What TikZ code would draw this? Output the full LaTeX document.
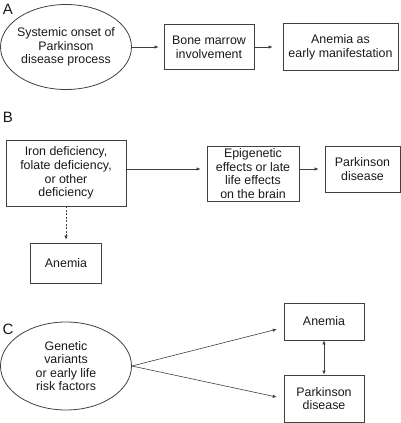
\documentclass[tikz,border=0pt]{standalone}
\usepackage{fontspec}
\setmainfont{Liberation Sans}
\usetikzlibrary{shapes.geometric,arrows.meta}

\begin{document}
\begin{tikzpicture}[x=1pt,y=-1pt]
\tikzstyle{box}=[draw=black!75,line width=0.8pt,shape=rectangle,align=center,inner sep=0pt,text=black!90,font=\fontsize{12.4}{13.6}\selectfont]
\tikzstyle{oval}=[box,shape=ellipse,inner sep=-3pt]
\tikzstyle{panel}=[inner sep=0pt,text=black!90,font=\fontsize{15}{15}\selectfont]
\tikzstyle{arr}=[draw=black!75,line width=0.6pt,-{Latex[length=4pt,width=3.5pt]}]
\useasboundingbox (0,0) rectangle (401,423);

\path (8,9) node[panel](pa){A} (8,117) node[panel](pb){B} (8,329) node[panel](pc){C};

\path (66,47) node[oval,minimum width=131pt,minimum height=85pt](ons){Systemic onset of\\Parkinson\\disease process}
 (209,47) node[box,minimum width=90pt,minimum height=45pt](bm){Bone marrow\\involvement}
 (340.5,47) node[box,minimum width=115pt,minimum height=47pt](aem){Anemia as\\early manifestation};
\draw[arr,shorten >=5pt] (ons) -- (bm);
\draw[arr,shorten >=10pt] (bm) -- (aem);

\path (66,173) node[box,minimum width=120pt,minimum height=66pt](iron){Iron deficiency,\\folate deficiency,\\or other\\deficiency}
 (253,173.5) node[box,minimum width=92pt,minimum height=55pt](epi){Epigenetic\\effects or late\\life effects\\on the brain}
 (362.5,169) node[box,minimum width=75pt,minimum height=46pt](pdb){Parkinson\\disease}
 (66,263) node[box,minimum width=71pt,minimum height=40pt](anb){Anemia};
\draw[arr,shorten >=6pt] (iron.east |- pdb) -- (epi.west |- pdb);
\draw[arr,shorten >=6pt] (epi.east |- pdb) -- (pdb.west);
\draw[arr,dash pattern=on 2pt off 1.5pt,shorten >=3pt] (iron) -- (anb);

\path (66,366) node[oval,minimum width=131pt,minimum height=88pt](gen){Genetic\\variants\\or early life\\risk factors}
 (324,321.5) node[box,minimum width=80pt,minimum height=37pt](anc){Anemia}
 (324,398.5) node[box,minimum width=80pt,minimum height=47pt](pdc){Parkinson\\disease};
\draw[arr,shorten >=7pt] (gen.east) -- ([yshift=-6pt]anc.west);
\draw[arr,shorten >=7pt] (gen.east) -- (pdc.west);
\draw[arr,{Latex[length=4pt,width=3.5pt]}-{Latex[length=4pt,width=3.5pt]}] (anc) -- (pdc);
\end{tikzpicture}
\end{document}
